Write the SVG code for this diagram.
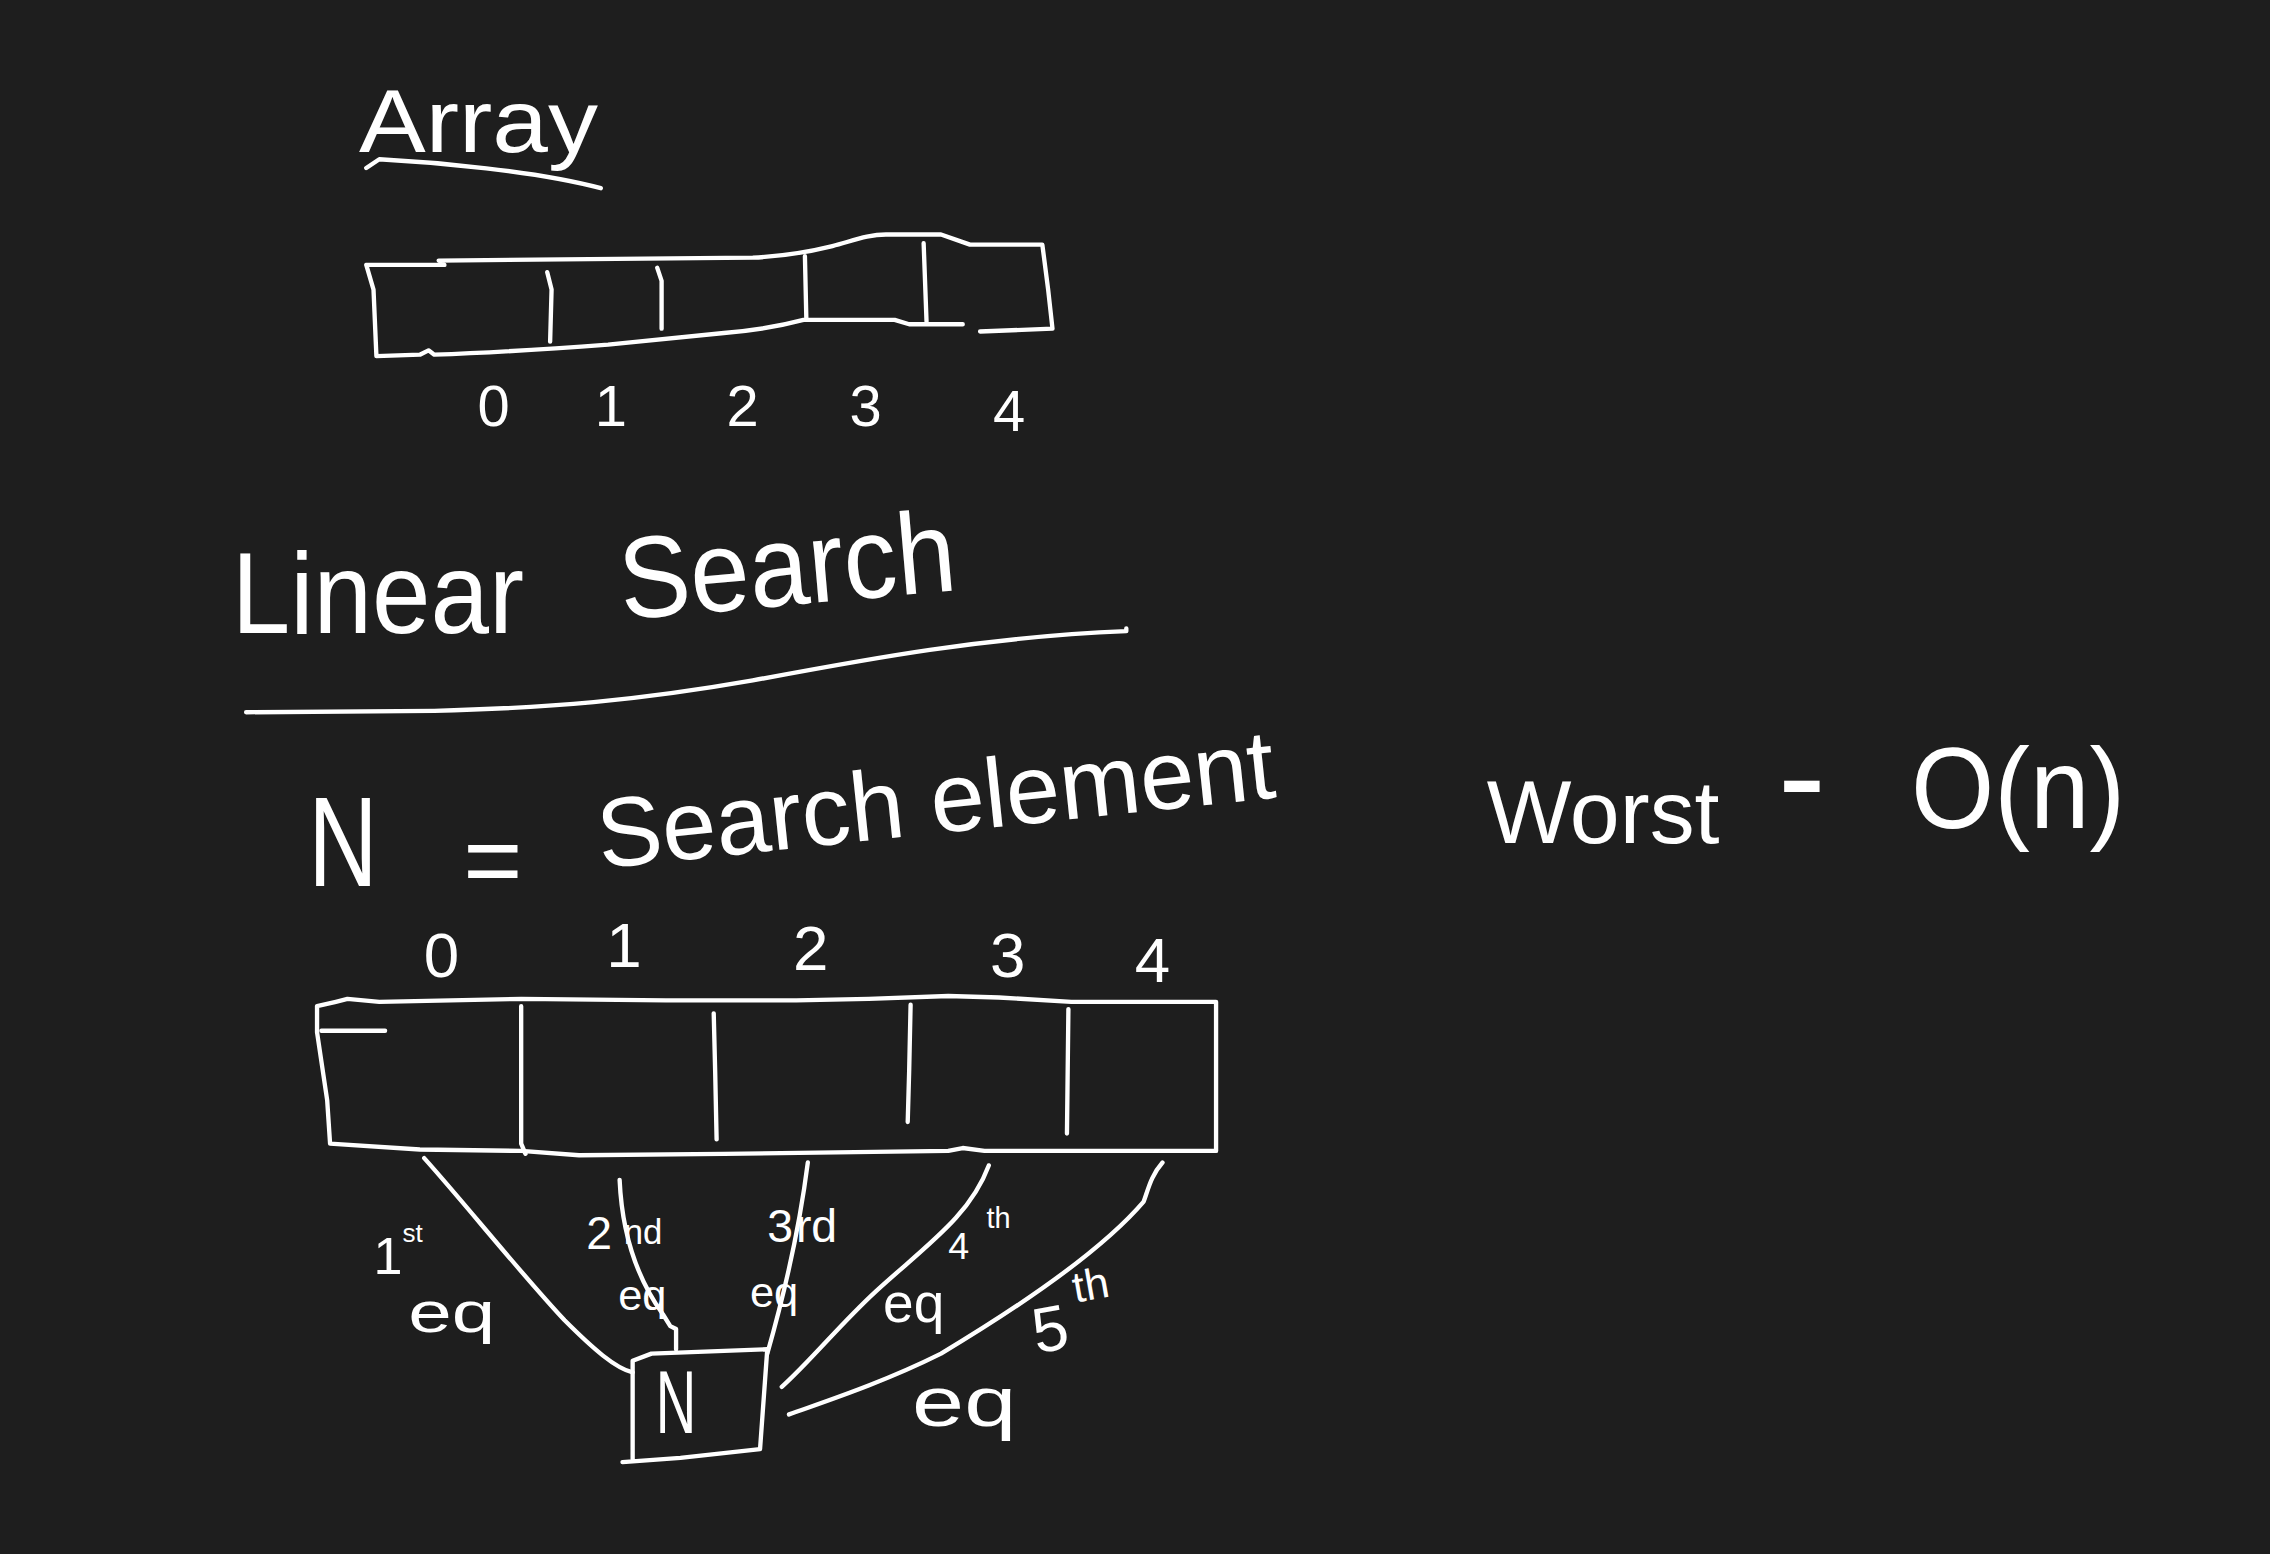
<svg xmlns="http://www.w3.org/2000/svg" width="2270" height="1554" viewBox="0 0 2270 1554">
<style>
.s{fill:none;stroke:#ffffff;stroke-width:3;stroke-linecap:round;stroke-linejoin:round}
.t{fill:#ffffff;font-family:"Liberation Sans",Arial,sans-serif}
.m{text-anchor:middle}
</style>
<rect width="2270" height="1554" fill="#1e1e1e"/>
<g transform="scale(1.4477)">
<g id="title-array">
<text class="t" x="248" y="105" font-size="62" textLength="165" lengthAdjust="spacingAndGlyphs">Array</text>
<path class="s" d="M253,116 L262,110 C300,112 370,118 415,130"/>
</g>
<g id="array-top">
<path class="s" d="M253,183 L307,183 M303,180 L520,178 C540,177 555,175 575,170 C590,166 600,162 612,162 L650,162 L670,169 L720,169 L724,200 L727,227 L677,229 M665,224 L628,224 L618,221 L555,221 C540,225 525,228 500,230 C470,233 440,236 420,238 C380,241 330,244 300,245 L296,242 L290,245 L260,246 L258,200 L253,183"/>
<path class="s" d="M378,188 L381,200 L380,236 M454,185 L457,194 L457,227 M556,177 L557,221 M638,168 L640,222"/>
<text class="t m" font-size="40"><tspan x="341" y="294">0</tspan><tspan x="422" y="294">1</tspan><tspan x="513" y="294">2</tspan><tspan x="598" y="294">3</tspan><tspan x="697" y="298">4</tspan></text>
</g>
<g id="linear-search">
<text class="t" x="160" y="437" font-size="80" textLength="202" lengthAdjust="spacingAndGlyphs">Linear</text>
<text class="t" x="430" y="428" font-size="80" textLength="233" lengthAdjust="spacingAndGlyphs" transform="rotate(-5 430 428)">Search</text>
<path class="s" d="M170,492 L300,491 C380,489 440,484 520,470 C600,455 680,440 778,436 L778,434"/>
</g>
<g id="definition">
<text class="t" x="213" y="612" font-size="88" textLength="48" lengthAdjust="spacingAndGlyphs">N</text>
<text class="t" x="320" y="618" font-size="70">=</text>
<text class="t" x="415" y="600" font-size="68" textLength="470" lengthAdjust="spacingAndGlyphs" transform="rotate(-6 415 600)">Search element</text>
</g>
<g id="complexity">
<text class="t"><tspan x="1027" y="582" font-size="62">Worst</tspan><tspan x="1228" y="570" font-size="100">-</tspan><tspan x="1320" y="572" font-size="80" textLength="148" lengthAdjust="spacingAndGlyphs">O(n)</tspan></text>
</g>
<g id="array-bottom">
<path class="s" d="M219,695 L232,692 L240,690 L262,692 L360,690 L460,691 L550,691 L600,690 L655,688 L690,689 L740,692 L800,692 L840,692 L840,795 L680,795 L665,793 L655,795 L500,797 L400,798 L360,795 L290,794 L228,790 L226,760 L219,713 L219,695"/>
<path class="s" d="M222,712 L266,712 M360,695 L360,790 L363,797 M493,700 L494,740 L495,787 M629,694 L628,740 L627,775 M738,697 L737,783"/>
<text class="t m" font-size="44"><tspan x="305" y="675">0</tspan><tspan x="431" y="668">1</tspan><tspan x="560" y="670">2</tspan><tspan x="696" y="675">3</tspan><tspan x="796" y="678">4</tspan></text>
</g>
<g id="node-n">
<path class="s" d="M437,1008 L437,940 L450,935 L530,932 L525,1001 L470,1007 L430,1010"/>
<text class="t m" x="467" y="990" font-size="62" textLength="28" lengthAdjust="spacingAndGlyphs">N</text>
</g>
<g id="connectors">
<path class="s" d="M293,800 C320,830 360,880 390,912 C410,932 425,945 437,948"/>
<path class="s" d="M428,815 C430,860 445,890 458,908 L463,916 L467,918 L467,932"/>
<path class="s" d="M558,803 C552,850 540,900 530,935"/>
<path class="s" d="M683,805 C670,840 640,860 605,892 C580,915 560,940 540,958"/>
<path class="s" d="M803,803 C795,812 793,822 790,830 C760,865 700,905 650,935 C610,955 570,968 545,977"/>
</g>
<g id="labels">
<text class="t" x="258" y="880" font-size="36">1<tspan font-size="18" dy="-22">st</tspan></text>
<text class="t" x="282" y="920" font-size="40" textLength="60" lengthAdjust="spacingAndGlyphs">eq</text>
<text class="t" x="405" y="863" font-size="32">2<tspan font-size="24" dx="8" dy="-4">nd</tspan></text>
<text class="t" x="427" y="905" font-size="30">eq</text>
<text class="t" x="530" y="858" font-size="32">3<tspan dx="2">rd</tspan></text>
<text class="t" x="518" y="903" font-size="30">eq</text>
<text class="t" x="655" y="870" font-size="26">4<tspan font-size="20" dx="12" dy="-22">th</tspan></text>
<text class="t" x="610" y="913" font-size="38">eq</text>
<text class="t" x="716" y="935" font-size="44" transform="rotate(-10 716 935)">5<tspan font-size="30" dx="8" dy="-30">th</tspan></text>
<text class="t" x="630" y="985" font-size="48" textLength="72" lengthAdjust="spacingAndGlyphs">eq</text>
</g>
</g>
</svg>
